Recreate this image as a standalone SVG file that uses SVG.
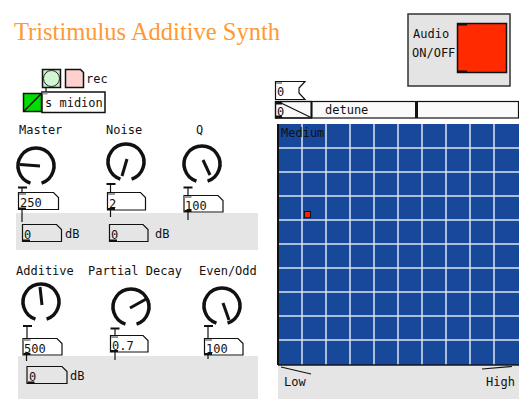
<svg xmlns="http://www.w3.org/2000/svg" width="519" height="399" viewBox="0 0 519 399">
<defs>
<style>
.lbl{font-family:"DejaVu Sans Mono","Liberation Mono",monospace;font-size:12px;fill:#111}
.num{font-family:"DejaVu Sans Mono","Liberation Mono",monospace;font-size:12px;fill:#111}
.box{fill:none;stroke:#111;stroke-width:1.2}
.panel{fill:#e5e5e5}
.arc{fill:none;stroke:#111;stroke-width:3.5}
.needle{stroke:#111;stroke-width:3;stroke-linecap:butt}
.conn{stroke:#111;stroke-width:1.2;fill:none}
.out{fill:#111}
.inl{fill:#999}
.grid{stroke:#dde5f2;stroke-width:1.5}
</style>
<path id="knobarc" class="arc" d="M -5.56 17.12 A 18 18 0 1 1 5.56 17.12"/>
</defs>
<rect width="519" height="399" fill="#ffffff"/>

<g id="title">
<text x="14" y="40" font-family="Liberation Serif, serif" font-size="24.5" fill="#ff9933">Tristimulus Additive Synth</text>
</g>

<g id="audio-toggle">
<rect x="408" y="14" width="102" height="72" fill="#e4e4e4" stroke="#333" stroke-width="1.5"/>
<text x="413" y="38" class="lbl" font-size="11">Audio</text>
<text x="412" y="57" class="lbl" font-size="11">ON/OFF</text>
<rect x="457.5" y="23.5" width="49" height="49" fill="#ff2a00" stroke="#111" stroke-width="1.5"/>
<rect x="458" y="23" width="9" height="2.5" fill="#111"/>
<rect x="458" y="70.5" width="9" height="2.5" fill="#111"/>
</g>

<g id="bang">
<rect x="42.5" y="69.5" width="18" height="18" fill="#c6eec6" stroke="#111" stroke-width="1.5"/>
<circle cx="51.5" cy="78.5" r="8" fill="#d4f5d4" stroke="#222" stroke-width="1"/>
</g>
<g id="rec">
<path d="M65.5 69.5 H80.5 L83.5 72.5 V87.5 H65.5 Z" fill="#ffd0d0" stroke="#111" stroke-width="1.5"/>
<text x="86" y="83" class="lbl">rec</text>
</g>
<g id="toggle-green">
<rect x="23.5" y="93.5" width="18" height="18" fill="#00dd00" stroke="#111" stroke-width="1.5"/>
<line x1="24" y1="111" x2="41" y2="94" stroke="#111" stroke-width="1.5"/>
</g>
<g id="s-midion">
<rect x="42" y="92" width="63" height="20.5" fill="#ffffff" stroke="#111" stroke-width="1.5"/>
<rect x="42.5" y="92.5" width="5" height="2" class="inl"/>
<text x="45" y="107" class="lbl">s midion</text>
</g>

<!-- Row 1 -->
<g id="knob-master">
<text x="19" y="134" class="lbl">Master</text>
<use href="#knobarc" transform="translate(36,166)"/>
<line x1="40" y1="166" x2="20" y2="164.5" class="needle"/>
<rect x="18" y="186.5" width="9" height="2" class="out"/>
</g>
<g id="num-master">
<path d="M18.5 192.5 H53.5 L58.5 197.5 V209.5 H18.5 Z" class="box"/>
<rect x="19" y="193" width="7" height="2" class="inl"/>
<rect x="19" y="207.5" width="7" height="2" class="out"/>
<text x="20" y="207" class="num">250</text>
</g>
<g id="knob-noise">
<text x="106" y="134" class="lbl">Noise</text>
<use href="#knobarc" transform="translate(126,162)"/>
<line x1="127" y1="159" x2="122" y2="176" class="needle"/>
<rect x="106.5" y="183" width="9" height="2" class="out"/>
</g>
<g id="num-noise">
<path d="M107.5 192.5 H140.5 L145.5 197.5 V210 H107.5 Z" class="box"/>
<rect x="108" y="193" width="7" height="2" class="inl"/>
<rect x="108" y="208" width="7" height="2" class="out"/>
<text x="109" y="207.5" class="num">2</text>
</g>
<g id="knob-q">
<text x="196" y="134" class="lbl">Q</text>
<use href="#knobarc" transform="translate(202,164)"/>
<line x1="203" y1="160" x2="210" y2="175" class="needle"/>
<rect x="183.5" y="186.5" width="9" height="2" class="out"/>
</g>
<g id="num-q">
<path d="M184 195.5 H218 L223 200.5 V212 H184 Z" class="box"/>
<rect x="184.5" y="196" width="7" height="2" class="inl"/>
<rect x="184.5" y="210" width="7" height="2" class="out"/>
<text x="185" y="210" class="num">100</text>
</g>

<g id="panel-1">
<rect x="16" y="213" width="242" height="37" class="panel"/>
</g>
<g id="db-master">
<path d="M22.5 224.5 H56.5 L61.5 229.5 V241.5 H22.5 Z" class="box"/>
<rect x="23" y="239.5" width="7" height="2" class="out"/>
<text x="24" y="239" class="num">0</text>
<text x="65" y="238" class="lbl">dB</text>
</g>
<g id="db-noise">
<path d="M109.5 224.5 H143 L148 229.5 V241.5 H109.5 Z" class="box"/>
<rect x="110" y="239.5" width="7" height="2" class="out"/>
<text x="111" y="239" class="num">0</text>
<text x="155" y="238" class="lbl">dB</text>
</g>

<!-- Row 2 -->
<g id="knob-additive">
<text x="16" y="275" class="lbl">Additive</text>
<use href="#knobarc" transform="translate(41,302)"/>
<line x1="42" y1="305" x2="40" y2="287" class="needle"/>
<rect x="23" y="325" width="9" height="2" class="out"/>
</g>
<g id="num-additive">
<path d="M23 338.5 H57 L62 343.5 V355 H23 Z" class="box"/>
<rect x="23.5" y="339" width="7" height="2" class="inl"/>
<rect x="23.5" y="353" width="7" height="2" class="out"/>
<text x="24" y="353" class="num">500</text>
</g>
<g id="knob-partial">
<text x="88" y="275" class="lbl">Partial Decay</text>
<use href="#knobarc" transform="translate(131,307)"/>
<line x1="130" y1="308" x2="148" y2="298" class="needle"/>
<rect x="110.5" y="327.5" width="9" height="2" class="out"/>
</g>
<g id="num-partial">
<path d="M110.5 335.5 H143 L148 340.5 V352 H110.5 Z" class="box"/>
<rect x="111" y="336" width="7" height="2" class="inl"/>
<rect x="111" y="350" width="7" height="2" class="out"/>
<text x="112" y="350" class="num">0.7</text>
</g>
<g id="knob-evenodd">
<text x="199" y="275" class="lbl">Even/Odd</text>
<use href="#knobarc" transform="translate(222,306)"/>
<line x1="223" y1="303" x2="229" y2="320" class="needle"/>
<rect x="204" y="325" width="9" height="2" class="out"/>
</g>
<g id="num-evenodd">
<path d="M204.5 338.5 H238 L243 343.5 V355 H204.5 Z" class="box"/>
<rect x="205" y="339" width="7" height="2" class="inl"/>
<rect x="205" y="353" width="7" height="2" class="out"/>
<text x="206" y="353" class="num">100</text>
</g>

<g id="panel-2">
<rect x="18" y="356" width="240" height="43" class="panel"/>
</g>
<g id="db-additive">
<path d="M27 366.5 H62 L67 371.5 V383.5 H27 Z" class="box"/>
<rect x="27.5" y="381.5" width="7" height="2" class="out"/>
<text x="29" y="381" class="num">0</text>
<text x="70" y="380" class="lbl">dB</text>
</g>

<!-- Right side -->
<g id="num-top">
<path d="M275.5 81.5 H305 L299 88 V93 L305 99.5 H275.5 Z" fill="#ffffff" stroke="#111" stroke-width="1.2"/>
<rect x="276" y="82" width="6" height="2" class="inl"/>
<text x="277" y="96" class="num">0</text>
</g>
<g id="detune-slider">
<rect x="275.5" y="101.5" width="243" height="16.5" fill="#fafafa" stroke="#111" stroke-width="1.2"/>
<rect x="275.5" y="101.5" width="36" height="16.5" fill="none" stroke="#111" stroke-width="1.2"/>
<line x1="311.5" y1="102" x2="311.5" y2="118" stroke="#111" stroke-width="2"/>
<rect x="276" y="102" width="6" height="2.5" class="out"/>
<rect x="276" y="115.5" width="6" height="2.5" class="out"/>
<text x="277" y="116" class="num">0</text>
<text x="325" y="114" class="lbl">detune</text>
<rect x="415" y="102" width="3" height="16" fill="#111"/>
</g>

<g id="xy-grid">
<rect x="278" y="124" width="241" height="241" fill="#17489a"/>
<g class="grid">
<line x1="302" y1="124" x2="302" y2="365"/>
<line x1="326" y1="124" x2="326" y2="365"/>
<line x1="350" y1="124" x2="350" y2="365"/>
<line x1="374" y1="124" x2="374" y2="365"/>
<line x1="398" y1="124" x2="398" y2="365"/>
<line x1="422" y1="124" x2="422" y2="365"/>
<line x1="446" y1="124" x2="446" y2="365"/>
<line x1="470" y1="124" x2="470" y2="365"/>
<line x1="494" y1="124" x2="494" y2="365"/>
<line x1="278" y1="148" x2="519" y2="148"/>
<line x1="278" y1="172" x2="519" y2="172"/>
<line x1="278" y1="196" x2="519" y2="196"/>
<line x1="278" y1="220" x2="519" y2="220"/>
<line x1="278" y1="244" x2="519" y2="244"/>
<line x1="278" y1="268" x2="519" y2="268"/>
<line x1="278" y1="292" x2="519" y2="292"/>
<line x1="278" y1="316" x2="519" y2="316"/>
<line x1="278" y1="340" x2="519" y2="340"/>
</g>
<line x1="278" y1="124" x2="278" y2="365" stroke="#111" stroke-width="2"/>
<line x1="278" y1="365" x2="519" y2="365" stroke="#111" stroke-width="1.5"/>
<text x="281" y="137" class="lbl" fill="#0a0a20">Medium</text>
<rect x="304.5" y="211.5" width="6" height="6" fill="#ff2200" stroke="#111" stroke-width="1"/>
</g>
<g id="xy-panel">
<rect x="278" y="366" width="241" height="33" class="panel"/>
<text x="284" y="386" class="lbl">Low</text>
<text x="486" y="386" class="lbl">High</text>
</g>

<g id="connectors">
<line x1="46" y1="88" x2="46" y2="92" class="conn"/>
<line x1="22" y1="188" x2="22" y2="193" class="conn"/>
<line x1="110.5" y1="184" x2="110.5" y2="193" class="conn"/>
<line x1="188" y1="188" x2="188" y2="196" class="conn"/>
<line x1="22" y1="209" x2="22" y2="222" class="conn"/>
<line x1="110.5" y1="210" x2="110.5" y2="217" class="conn"/>
<line x1="188" y1="212" x2="188" y2="220" class="conn"/>
<line x1="27" y1="326" x2="27" y2="339" class="conn"/>
<line x1="115" y1="328" x2="115" y2="336" class="conn"/>
<line x1="208" y1="326" x2="208" y2="339" class="conn"/>
<line x1="26.5" y1="355" x2="26.5" y2="361" class="conn"/>
<line x1="115" y1="352" x2="115" y2="360" class="conn"/>
<line x1="208" y1="355" x2="208" y2="359" class="conn"/>
<line x1="279" y1="102" x2="311" y2="117.5" class="conn"/>
<line x1="281" y1="367" x2="311" y2="374" class="conn"/>
<line x1="482" y1="369" x2="512" y2="366.5" class="conn" stroke-width="1.5"/>
</g>
</svg>
